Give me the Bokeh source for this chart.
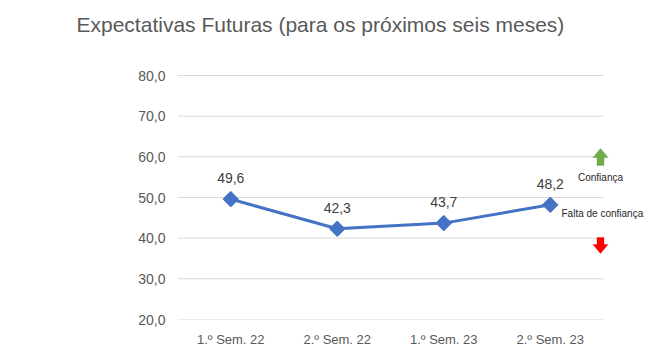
from bokeh.plotting import figure
from bokeh.models import ColumnDataSource, Label, PolyAnnotation, LabelSet, FixedTicker, Range1d
from bokeh.core.properties import value
from bokeh.embed import file_html
from bokeh.resources import INLINE
from math import pi

categories = ["1.º Sem. 22", "2.º Sem. 22", "1.º Sem. 23", "2.º Sem. 23"]
values = [49.6, 42.3, 43.7, 48.2]
y_ticks = [20, 30, 40, 50, 60, 70, 80]
y_tick_labels = ["20,0", "30,0", "40,0", "50,0", "60,0", "70,0", "80,0"]
title_text = "Expectativas Futuras (para os próximos seis meses)"

FONT = "Liberation Sans"

xs = [i + 0.5 for i in range(len(categories))]
src = ColumnDataSource(dict(
    x=xs,
    y=values,
    lbl=[f"{v:.1f}".replace(".", ",") for v in values],
))

# frame: left 177px, bottom 319px, right edge of canvas, top 40px
PX_PER_CAT = 106.5
PX_PER_UNIT = (319 - 75) / 60.0
x_end = (655 - 177) / PX_PER_CAT
y_end = 20 + (319 - 40) / PX_PER_UNIT

p = figure(width=655, height=351, x_range=Range1d(0, x_end), y_range=Range1d(20, y_end),
           output_backend="svg", toolbar_location=None,
           min_border_left=177, min_border_right=0, min_border_top=40, min_border_bottom=32)
p.outline_line_color = None
p.background_fill_color = "white"
p.border_fill_color = "white"

p.title.text = title_text
p.title.text_font = FONT
p.title.text_font_size = "21px"
p.title.text_font_style = "normal"
p.title.text_color = "#595959"
p.title.align = "left"
p.title.offset = -101

p.xgrid.grid_line_color = None
p.ygrid.grid_line_color = None

# horizontal gridlines spanning the category area only
p.segment(x0=[0] * len(y_ticks), x1=[len(categories)] * len(y_ticks), y0=y_ticks, y1=y_ticks,
          line_color="#d9d9d9", line_width=1)

p.xaxis.ticker = FixedTicker(ticks=xs)
p.xaxis.major_label_overrides = {x: c for x, c in zip(xs, categories)}
p.yaxis.ticker = FixedTicker(ticks=y_ticks)
p.yaxis.major_label_overrides = {t: l for t, l in zip(y_ticks, y_tick_labels)}
for ax in (p.xaxis[0], p.yaxis[0]):
    ax.axis_line_color = None
    ax.major_tick_line_color = None
    ax.minor_tick_line_color = None
    ax.major_label_text_font = FONT
    ax.major_label_text_font_size = "13px"
    ax.major_label_text_color = "#595959"
p.yaxis.major_label_text_font_size = "14px"
p.yaxis.major_label_standoff = 6
p.xaxis.major_label_standoff = 6

p.line("x", "y", source=src, line_color="#4472C4", line_width=3)
p.scatter("x", "y", source=src, marker="square", size=11, angle=pi / 4,
          fill_color="#4472C4", line_color="#4472C4")

p.add_layout(LabelSet(x="x", y="y", text="lbl", source=src, y_offset=16,
                      text_align="center", text_baseline="bottom",
                      text_font=value(FONT), text_font_size="14px", text_color="#404040"))


def block_arrow(cx, tail_y, tip_y, head_h=9, head_w=15, stem_w=7):
    d = 1 if tip_y > tail_y else -1
    base = tip_y - d * head_h
    hw, sw = head_w / 2, stem_w / 2
    axs = [cx, cx + hw, cx + sw, cx + sw, cx - sw, cx - sw, cx - hw]
    ays = [tip_y, base, base, tail_y, tail_y, base, base]
    return axs, ays


gx, gy = block_arrow(423, 154, 171)
p.add_layout(PolyAnnotation(xs=gx, ys=gy, xs_units="screen", ys_units="screen",
                            fill_color="#70AD47", fill_alpha=1, line_color="#548235", line_width=1))
rx, ry = block_arrow(423, 82, 66)
p.add_layout(PolyAnnotation(xs=rx, ys=ry, xs_units="screen", ys_units="screen",
                            fill_color="#FF0000", fill_alpha=1, line_color="#C00000", line_width=1))

p.add_layout(Label(x=423, y=142, x_units="screen", y_units="screen", text="Confiança",
                   text_font=FONT, text_font_size="10px", text_color="#262626",
                   text_align="center", text_baseline="middle"))
p.add_layout(Label(x=384, y=106, x_units="screen", y_units="screen", text="Falta de confiança",
                   text_font=FONT, text_font_size="10px", text_color="#262626",
                   text_align="left", text_baseline="middle"))

open("out.html", "w").write(file_html(p, INLINE))
